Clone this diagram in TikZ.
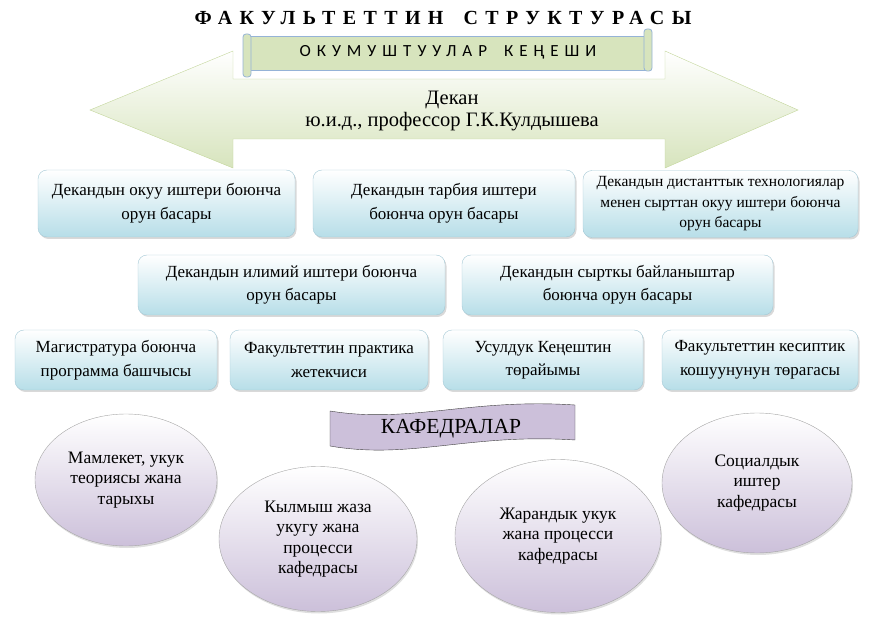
\documentclass[tikz,border=0pt]{standalone}
\usepackage{fontspec}
\setmainfont{Liberation Serif}
\newfontfamily\titlefont[LetterSpace=37]{Liberation Serif}
\newfontfamily\councilfont[LetterSpace=35]{Carlito}
\usetikzlibrary{shapes.geometric, shadows, positioning}

\definecolor{boxblue}{HTML}{B7DEE8}
\definecolor{boxline}{HTML}{A5C9D6}
\definecolor{chairlav}{HTML}{CCC0DA}
\definecolor{chairline}{HTML}{A6A6A6}
\definecolor{arrowgreen}{HTML}{D7E4BD}
\definecolor{arrowline}{HTML}{C3D69B}
\definecolor{scrollline}{HTML}{95B3D7}

\begin{document}
\begin{tikzpicture}[
      x=1pt, y=-1pt,
      deputy/.style={rectangle, draw=boxline, rounded corners=9pt, top color=white, bottom color=boxblue, align=center, inner sep=2pt, font=\fontsize{17}{23.5}\selectfont, drop shadow={opacity=0.3, shadow xshift=1.5pt, shadow yshift=-2pt}},
      chair/.style={ellipse, draw=chairline, top color=white, bottom color=chairlav, align=center, inner sep=0pt, font=\fontsize{17.5}{20.5}\selectfont, drop shadow={opacity=0.25, shadow xshift=1pt, shadow yshift=-2pt}},
      scroll/.style={draw=scrollline, thick, fill=arrowgreen}
    ]
    \useasboundingbox (0,0) rectangle (876,620);

    \node (title) at (443,18) {\titlefont\bfseries\fontsize{20}{22}\selectfont ФАКУЛЬТЕТТИН\quad СТРУКТУРАСЫ};

    % dean arrow
    \draw[draw=arrowline, top color=white, bottom color=arrowgreen]
      (90,110) -- (233,51) -- (233,79) -- (665,79) -- (665,51) -- (798,110)
      -- (665,168) -- (665,139) -- (233,139) -- (233,168) -- cycle;
    \node[align=center, font=\fontsize{20.5}{22}\selectfont] (dean) at (452,111)
      {Декан\\ю.и.д., профессор Г.К.Кулдышева};

    % scroll
    \draw[scroll] (250,36) rectangle (645,70);
    \draw[scroll, rounded corners=3pt] (243,34) rectangle (251,77);
    \draw[scroll, rounded corners=3pt] (644,29) rectangle (652,71);
    \node (council) at (448,52) {\councilfont\fontsize{17}{18}\selectfont ОКУМУШТУУЛАР\quad КЕҢЕШИ};

    % deputies
    \node[deputy, minimum width=257pt, minimum height=67pt] (dep_study) at (166.5,203.5)
      {Декандын окуу иштери боюнча\\орун басары};
    \node[deputy, minimum width=262pt, minimum height=67pt] (dep_edu) at (444,203.5)
      {Декандын тарбия иштери\\боюнча орун басары};
    \node[deputy, minimum width=275pt, minimum height=67pt, font=\fontsize{15.5}{20.5}\selectfont] (dep_dist) at (720.5,204)
      {Декандын дистанттык технологиялар\\менен сырттан окуу иштери боюнча\\орун басары};
    \node[deputy, minimum width=307pt, minimum height=60pt] (dep_sci) at (291.5,285)
      {Декандын илимий иштери боюнча\\орун басары};
    \node[deputy, minimum width=311pt, minimum height=60pt] (dep_ext) at (617.5,285)
      {Декандын сырткы байланыштар\\боюнча орун басары};

    \node[deputy, minimum width=202pt, minimum height=60pt] (mast) at (116,360)
      {Магистратура боюнча\\программа башчысы};
    \node[deputy, minimum width=198pt, minimum height=60pt] (pract) at (329,360)
      {Факультеттин практика\\жетекчиси};
    \node[deputy, minimum width=200pt, minimum height=60pt] (meth) at (543,360)
      {Усулдук Кеңештин\\төрайымы};
    \node[deputy, minimum width=196pt, minimum height=60pt] (union) at (760,360)
      {Факультеттин кесиптик\\кошуунунун төрагасы};

    % chairs
    \draw[fill=chairlav, draw=black!75]
      (330,411) .. controls (410,424) and (470,398) .. (575,405)
      -- (575,440) .. controls (470,433) and (410,460) .. (330,446) -- cycle;
    \node[font=\fontsize{21.5}{24}\selectfont] (chairs) at (451,429) {КАФЕДРАЛАР};

    \node[chair, minimum width=182pt, minimum height=132pt] (ch_state) at (126,480)
      {Мамлекет, укук\\теориясы жана\\тарыхы};
    \node[chair, minimum width=198pt, minimum height=145pt] (ch_crim) at (318,539)
      {Кылмыш жаза\\укугу жана\\процесси\\кафедрасы};
    \node[chair, minimum width=206pt, minimum height=153pt] (ch_civil) at (558,536)
      {Жарандык укук\\жана процесси\\кафедрасы};
    \node[chair, minimum width=190pt, minimum height=140pt] (ch_social) at (757,483)
      {Социалдык\\иштер\\кафедрасы};
\end{tikzpicture}
\end{document}
